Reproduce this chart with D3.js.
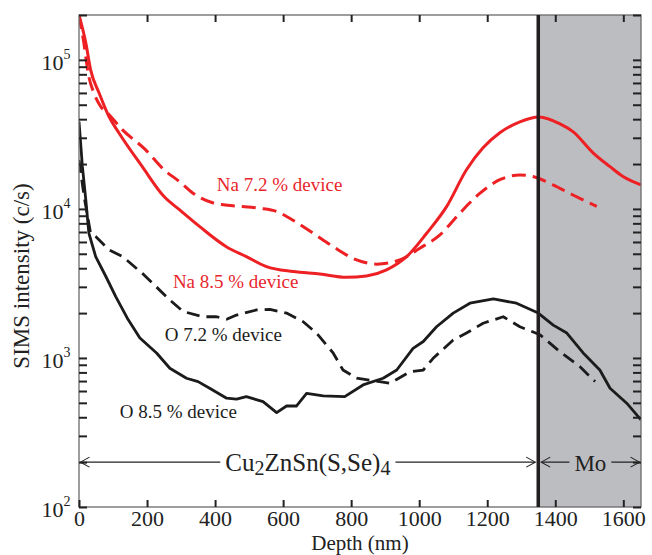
<!DOCTYPE html>
<html>
<head>
<meta charset="utf-8">
<script src="https://cdn.jsdelivr.net/npm/d3@7"></script>
<style>
  body { margin: 0; background: #fff; }
  svg { display: block; }
  svg text { font-family: "Liberation Serif", "Times New Roman", serif; }
</style>
</head>
<body>
<svg width="652" height="555"></svg>
<script>
// SIMS depth profiles, depth in nm and intensity in c/s
const naDepth85 = [0, 20, 34, 59, 88, 118, 186, 250, 296, 355, 433, 492, 551, 629, 708, 786, 845, 904, 963, 1022,
  1081, 1139, 1187, 1237, 1296, 1352, 1414, 1452, 1511, 1561, 1599, 1652];
const naVal85 = [200000, 130000, 86000, 60000, 41600, 32200, 19200, 12100, 9850, 7600, 5580, 4790, 4100, 3800, 3660,
  3480, 3550, 3900, 4780, 6870, 10400, 18300, 25600, 32400, 38400, 41400, 37200, 33000, 23800, 19200, 16500, 14500];

const naDepth72 = [0, 12, 29, 44, 64, 84, 128, 196, 250, 296, 334, 393, 452, 531, 581, 629, 687, 746, 816, 875,
  943, 1002, 1061, 1120, 1178, 1237, 1296, 1334, 1393, 1452, 1522];
const naVal72 = [200000, 140000, 77000, 59800, 48600, 43900, 33900, 24900, 18300, 15200, 12800, 11000, 10500, 10100,
  9600, 8400, 6900, 5600, 4550, 4260, 4550, 5450, 6700, 9400, 12700, 15700, 16900, 16500, 14500, 12400, 10400];

const oDepth85 = [0, 10, 20, 29, 49, 79, 108, 142, 179, 228, 267, 316, 350, 384, 434, 463, 492, 541, 581, 610,
  639, 669, 718, 781, 835, 894, 934, 982, 1012, 1051, 1100, 1149, 1218, 1286, 1350, 1394, 1434, 1482, 1531, 1561,
  1610, 1652];
const oVal85 = [38600, 19200, 11500, 6870, 4790, 3520, 2580, 1850, 1360, 1080, 853, 731, 694, 626, 537, 529, 550,
  509, 430, 476, 476, 579, 556, 550, 659, 731, 830, 1160, 1290, 1620, 2000, 2330, 2490, 2330, 2000, 1660, 1470,
  1080, 830, 626, 497, 384];

const oDepth72 = [0, 15, 34, 49, 88, 128, 186, 267, 306, 365, 404, 434, 463, 522, 561, 610, 659, 698, 747, 776,
  816, 865, 914, 973, 1012, 1041, 1100, 1139, 1188, 1247, 1296, 1355, 1414, 1472, 1517];
const oVal72 = [21300, 12100, 6870, 6520, 5310, 4790, 3700, 2450, 2050, 1890, 1890, 1820, 1940, 2100, 2120, 2000,
  1750, 1470, 1080, 830, 731, 705, 676, 809, 830, 995, 1320, 1470, 1710, 1890, 1620, 1430, 1100, 875, 694];

const xTicks = [0, 200, 400, 600, 800, 1000, 1200, 1400, 1600];
const decades = [100, 1000, 10000, 100000];
const moStart = 1350;   // CZTSSe / Mo interface
const arrowLevel = 200; // intensity where the layer arrows sit

// label text, anchor depth and intensity at baseline start
const labelText = ["Na 7.2 % device", "Na 8.5 % device", "O 7.2 % device", "O 8.5 % device"];
const labelDepth = [405, 276, 252, 120];
const labelVal = [13100, 2940, 1290, 394];
const labelColor = ["#e8262d", "#e8262d", "#1b1b1b", "#1b1b1b"];

const red = "#ed2024";
const black = "#1b1b1b";
const serif = "Liberation Serif, Times New Roman, serif";

const svg = d3.select("svg").attr("font-family", serif);

const x = d3.scaleLinear().domain([0, 1652]).range([79, 641]);
const y = d3.scaleLog().domain([100, 200000]).range([507, 15]);
const [x0, x1] = x.range();
const [y0, y1] = y.range();

svg.append("defs").append("clipPath").attr("id", "plotclip")
  .append("rect")
  .attr("x", x0).attr("y", y1)
  .attr("width", x1 - x0).attr("height", y0 - y1);

// Mo layer shading
svg.append("rect")
  .attr("x", x(moStart)).attr("y", y1)
  .attr("width", x1 - x(moStart)).attr("height", y0 - y1)
  .attr("fill", "#bcbdc1");

const series = [
  { depth: naDepth72, val: naVal72, color: red, dash: "14,7", width: 3, curve: d3.curveMonotoneX },
  { depth: naDepth85, val: naVal85, color: red, dash: null, width: 3, curve: d3.curveMonotoneX },
  { depth: oDepth72, val: oVal72, color: black, dash: "13,7", width: 2.8, curve: d3.curveLinear },
  { depth: oDepth85, val: oVal85, color: black, dash: null, width: 2.8, curve: d3.curveLinear }
];

const curves = svg.append("g").attr("clip-path", "url(#plotclip)");
series.forEach(s => {
  const line = d3.line()
    .x((d, i) => x(s.depth[i]))
    .y(d => y(d))
    .curve(s.curve);
  curves.append("path")
    .datum(s.val)
    .attr("d", line)
    .attr("fill", "none")
    .attr("stroke", s.color)
    .attr("stroke-width", s.width)
    .attr("stroke-dasharray", s.dash)
    .attr("stroke-linejoin", "round");
});

// frame
svg.append("rect")
  .attr("x", x0).attr("y", y1)
  .attr("width", x1 - x0).attr("height", y0 - y1)
  .attr("fill", "none")
  .attr("stroke", "#6a6a6a")
  .attr("stroke-width", 1.3);

function styleAxis(g) {
  g.attr("font-family", serif);
  g.select(".domain").remove();
  g.selectAll(".tick line").attr("stroke", "#222").attr("stroke-width", 2);
}

svg.append("g")
  .attr("transform", `translate(0,${y0})`)
  .call(d3.axisBottom(x).tickValues(xTicks).tickSizeInner(-7).tickSizeOuter(0).tickPadding(3)
    .tickFormat(d3.format("d")))
  .call(styleAxis)
  .call(g => g.selectAll("text")
    .attr("font-size", 22)
    .attr("fill", "#222"));

svg.append("g")
  .attr("transform", `translate(0,${y1})`)
  .call(d3.axisTop(x).tickValues(xTicks.slice(1)).tickSizeInner(-7).tickSizeOuter(0).tickFormat(""))
  .call(styleAxis);

const yTicks = y.ticks();
svg.append("g")
  .attr("transform", `translate(${x0},0)`)
  .call(d3.axisLeft(y).tickValues(yTicks).tickSizeInner(-8).tickSizeOuter(0).tickFormat(""))
  .call(styleAxis);

svg.append("g")
  .attr("transform", `translate(${x1},0)`)
  .call(d3.axisRight(y).tickValues(yTicks).tickSizeInner(-8).tickSizeOuter(0).tickFormat(""))
  .call(styleAxis);

// power-of-ten labels
const yLab = svg.append("g").attr("fill", "#222");
decades.forEach(v => {
  yLab.append("text")
    .attr("x", 63.5)
    .attr("y", y(v) + 10)
    .attr("text-anchor", "end")
    .attr("font-size", 22)
    .text("10");
  yLab.append("text")
    .attr("x", 63.5)
    .attr("y", y(v) - 1)
    .attr("font-size", 14)
    .text(Math.round(Math.log10(v)));
});

// Mo interface line
svg.append("line")
  .attr("x1", x(moStart)).attr("x2", x(moStart))
  .attr("y1", y1).attr("y2", y0)
  .attr("stroke", "#231f20")
  .attr("stroke-width", 3.5);

// layer arrows
const ay = y(arrowLevel);
const arrows = svg.append("g").attr("stroke", "#222").attr("fill", "none").attr("stroke-width", 1.1);

function layerArrow(xa, xb, bg, build, size) {
  const g = arrows.append("g");
  g.append("line").attr("x1", xa).attr("x2", xb).attr("y1", ay).attr("y2", ay);
  g.append("path").attr("d", `M${xa + 9},${ay - 5}L${xa},${ay}L${xa + 9},${ay + 5}`);
  g.append("path").attr("d", `M${xb - 9},${ay - 5}L${xb},${ay}L${xb - 9},${ay + 5}`);
  const cx = (xa + xb) / 2;
  const bgRect = g.append("rect").attr("fill", bg).attr("stroke", "none");
  const t = g.append("text")
    .attr("x", cx).attr("y", ay + 9)
    .attr("text-anchor", "middle")
    .attr("font-size", size)
    .attr("fill", "#222")
    .attr("stroke", "none");
  build(t);
  const bb = t.node().getBBox();
  bgRect.attr("x", bb.x - 5).attr("y", ay - 4).attr("width", bb.width + 10).attr("height", 8);
}

layerArrow(x0 + 1.5, x(moStart) - 3, "#fff", t => {
  t.append("tspan").text("Cu");
  t.append("tspan").attr("font-size", "0.8em").attr("dy", 4).text("2");
  t.append("tspan").attr("dy", -4).text("ZnSn(S,Se)");
  t.append("tspan").attr("font-size", "0.8em").attr("dy", 4).text("4");
}, 25);

layerArrow(x(moStart) + 3, x1 - 1.5, "#bcbdc1", t => t.text("Mo"), 23);

// series labels
labelText.forEach((s, i) => {
  svg.append("text")
    .attr("x", x(labelDepth[i]))
    .attr("y", y(labelVal[i]))
    .attr("font-size", 19)
    .attr("fill", labelColor[i])
    .text(s);
});

// axis titles
svg.append("text")
  .attr("x", (x0 + x1) / 2)
  .attr("y", 550)
  .attr("text-anchor", "middle")
  .attr("font-size", 21)
  .attr("fill", "#222")
  .text("Depth (nm)");

svg.append("text")
  .attr("transform", `translate(29,${(y0 + y1) / 2 + 15}) rotate(-90)`)
  .attr("text-anchor", "middle")
  .attr("font-size", 23)
  .attr("fill", "#222")
  .text("SIMS intensity (c/s)");
</script>
</body>
</html>
